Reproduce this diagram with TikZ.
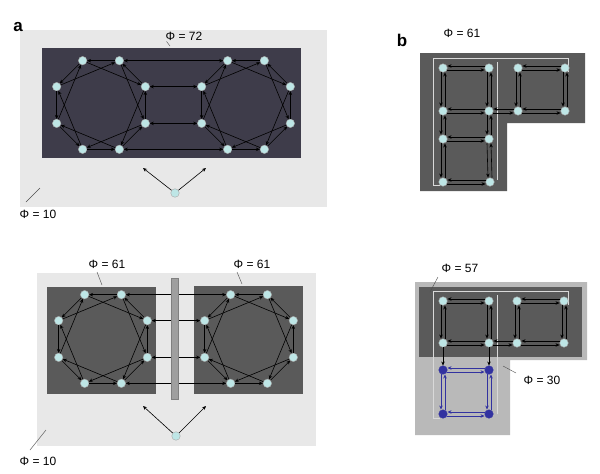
\documentclass[tikz,border=0pt]{standalone}
\usepackage{fontspec}
\setmainfont{Liberation Sans}
\usetikzlibrary{arrows.meta,calc}
\definecolor{nd}{HTML}{BEE6E6}
\definecolor{bgl}{HTML}{E8E8E8}
\definecolor{dkp}{HTML}{3E3C4A}
\definecolor{dkg}{HTML}{5A5A5A}
\definecolor{bl}{HTML}{3232A0}
\tikzset{
 nd/.style={circle,fill=nd,draw=gray!70,line width=0.4pt,inner sep=0pt,minimum size=8.5pt},
 bn/.style={circle,fill=bl,draw=bl,inner sep=0pt,minimum size=8.5pt},
 ar/.style={-{Stealth[length=4pt,width=3.5pt]},line width=0.6pt},
 bar/.style={{Stealth[length=4pt,width=3.5pt]}-{Stealth[length=4pt,width=3.5pt]},line width=0.6pt},
 lab/.style={font=\fontsize{12}{14}\selectfont,inner sep=1pt},
 ld/.style={line width=0.4pt,draw=black!70},
}
\newcommand{\octo}[3]{%
 \foreach \k in {0,...,7}{\node[nd] (#1-\k) at ($(#2,#3)+({-112.5+45*\k}:48)$) {};}
 \foreach \k in {0,...,7}{%
  \pgfmathtruncatemacro{\n}{mod(\k+1,8)}\pgfmathtruncatemacro{\m}{mod(\k+2,8)}%
  \draw[ar] (#1-\n) -- (#1-\k);
  \draw[ar] (#1-\k) -- (#1-\m);}}
\newcommand{\hd}[3][black]{\draw[ar,#1] ([yshift=-2pt]#2.east) -- ([yshift=-2pt]#3.west);\draw[ar,#1] ([yshift=2pt]#3.west) -- ([yshift=2pt]#2.east);}
\newcommand{\vd}[3][black]{\draw[ar,#1] ([xshift=-2pt]#2.south) -- ([xshift=-2pt]#3.north);\draw[ar,#1] ([xshift=2pt]#3.north) -- ([xshift=2pt]#2.south);}
\begin{document}
\begin{tikzpicture}[x=1pt,y=-1pt]
\useasboundingbox (0,0) rectangle (600,474);
% panel a top
\fill[bgl] (20,30) rectangle (327,207);
\fill[dkp] (42,48) rectangle (301,158);
\octo{L}{101}{105}
\octo{R}{246}{105}
\draw[bar] (L-1) -- (R-0);
\draw[bar] (L-2) -- (R-7);
\draw[bar] (L-3) -- (R-6);
\draw[bar] (L-4) -- (R-5);
\node[nd] (s1) at (175,193) {};
\coordinate (s1a) at (143,168); \coordinate (s1b) at (206,168);
\draw[ar] (s1) -- (s1a); \draw[ar] (s1) -- (s1b);
\node[lab] (p72) at (184,36) {Φ = 72};
\coordinate (p72e) at (170,46); \draw[ld] (p72.south west) ++(2,0) -- (p72e);
\node[lab] (p10a) at (38,214) {Φ = 10};
\coordinate (p10ae) at (40,188); \coordinate (p10as) at (26,202); \draw[ld] (p10as) -- (p10ae);
\node[font=\bfseries\fontsize{17}{19}\selectfont] (la) at (18,27) {a};
% panel a bottom
\fill[bgl] (37,273) rectangle (316,446);
\fill[dkg] (47,287) rectangle (156,394);
\fill[dkg] (194,286) rectangle (303,394);
\octo{P}{103}{339}
\octo{Q}{249}{339}
\draw[bar] (P-1) -- (Q-0);
\draw[bar] (P-2) -- (Q-7);
\draw[bar] (P-3) -- (Q-6);
\draw[bar] (P-4) -- (Q-5);
\node[fill=gray!75,draw=gray,minimum width=7pt,minimum height=121pt,inner sep=0pt] (wall) at (175,338.5) {};
\node[nd] (s2) at (176,436) {};
\coordinate (s2a) at (143,406); \coordinate (s2b) at (206,406);
\draw[ar] (s2) -- (s2a); \draw[ar] (s2) -- (s2b);
\node[lab] (p61a) at (107,264) {Φ = 61};
\coordinate (p61ae) at (102,285); \coordinate (p61as) at (97,272); \draw[ld] (p61as) -- (p61ae);
\node[lab] (p61b) at (252,264) {Φ = 61};
\coordinate (p61be) at (242,284); \coordinate (p61bs) at (237,272); \draw[ld] (p61bs) -- (p61be);
\node[lab] (p10b) at (38,461) {Φ = 10};
\coordinate (p10be) at (46,430); \coordinate (p10bs) at (30,450); \draw[ld] (p10bs) -- (p10be);
% panel b top
\node[font=\bfseries\fontsize{17}{19}\selectfont] (lb) at (402,40) {b};
\node[lab] (p61c) at (462,33) {Φ = 61};
\fill[dkg] (420,53) -- (585,53) -- (585,123) -- (507,123) -- (507,191) -- (420,191) -- cycle;
\draw[gray!30,line width=0.4pt] (433,58) -- (568,58) -- (568,72);
\draw[gray!30,line width=0.4pt] (433,58) -- (433,185) -- (440,185);
\draw[gray!30,line width=0.4pt] (497,62) -- (497,180);
\foreach \c/\x in {1/443,2/489,3/518,4/565}{\node[nd] (u1\c) at (\x,68) {}; \node[nd] (u2\c) at (\x,111) {};}
\node[nd] (u31) at (443,139) {}; \node[nd] (u32) at (489,139) {};
\node[nd] (u41) at (443,182) {}; \node[nd] (u42) at (490,182) {};
\hd{u11}{u12}\hd{u13}{u14}\hd{u21}{u22}\hd{u22}{u23}\hd{u23}{u24}\hd{u31}{u32}\hd{u41}{u42}
\vd{u11}{u21}\vd{u12}{u22}\vd{u13}{u23}\vd{u14}{u24}\vd{u21}{u31}\vd{u22}{u32}\vd{u31}{u41}\vd{u32}{u42}
% panel b bottom
\fill[gray!55] (415,282) -- (587,282) -- (587,360) -- (510,360) -- (510,435) -- (415,435) -- cycle;
\fill[dkg] (419,287) rectangle (582,357);
\draw[gray!30,line width=0.4pt] (433,291) -- (568,291) -- (568,305);
\draw[gray!30,line width=0.4pt] (433,291) -- (433,418) -- (440,418);
\draw[gray!30,line width=0.4pt] (497,295) -- (497,414);
\foreach \c/\x in {1/443,2/489,3/517,4/564}{\node[nd] (v1\c) at (\x,301) {}; \node[nd] (v2\c) at (\x,343) {};}
\node[bn] (v31) at (443,370) {}; \node[bn] (v32) at (489,370) {};
\node[bn] (v41) at (443,414) {}; \node[bn] (v42) at (489,414) {};
\hd{v11}{v12}\hd{v13}{v14}\hd{v21}{v22}\hd{v22}{v23}\hd{v23}{v24}
\hd[bl]{v31}{v32}\hd[bl]{v41}{v42}
\vd{v11}{v21}\vd{v12}{v22}\vd{v13}{v23}\vd{v14}{v24}\vd[bl]{v31}{v41}\vd[bl]{v32}{v42}
\draw[ar] (v21) -- (v31); \draw[ar] (v22) -- (v32);
\node[lab] (p57) at (460,268) {Φ = 57};
\coordinate (p57e) at (430,292); \coordinate (p57s) at (438,277); \draw[ld] (p57s) -- (p57e);
\node[lab] (p30) at (542,380) {Φ = 30};
\coordinate (p30e) at (503,366); \coordinate (p30s) at (516,373); \draw[ld] (p30s) -- (p30e);
\end{tikzpicture}
\end{document}
